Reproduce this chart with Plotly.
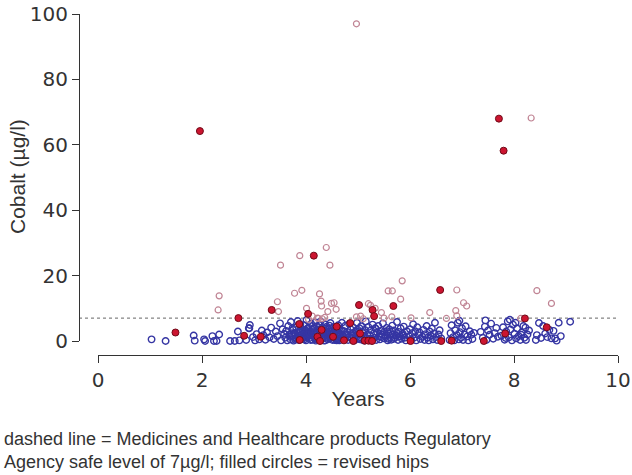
import plotly.graph_objects as go

# ---- revised hips (filled circles) ----
revised_x = [1.49, 1.96, 2.70, 2.81, 3.13, 3.34, 3.87, 3.88, 4.04, 4.15, 4.22, 4.30, 4.59, 4.52,
             4.27, 4.73, 4.85, 4.91, 5.02, 5.04, 5.13, 5.20, 5.27, 5.28, 5.31, 5.68, 6.01, 6.58,
             6.60, 6.80, 7.42, 7.71, 7.80, 7.83, 8.21, 8.63]
revised_y = [2.6, 64.2, 7.0, 1.6, 1.3, 9.5, 5.2, 0.3, 8.3, 26.1, 1.3, 3.4, 4.4, 1.3,
             0.0, 0.2, 5.5, 0.0, 11.0, 2.3, 0.1, 0.1, 0.0, 9.5, 7.6, 10.7, 0.0, 15.6,
             0.0, 0.1, 0.0, 68.0, 58.2, 2.3, 6.9, 4.2]

# ---- non-revised hips above the safe level (open, pink) ----
high_x = [2.31, 2.33, 3.45, 3.47, 3.51, 3.78, 3.88, 3.92, 4.01, 4.22, 4.24, 4.26, 4.29, 4.30,
          4.39, 4.42, 4.46, 4.49, 4.54, 4.58, 4.97, 4.97, 5.05, 5.20, 5.24, 5.33, 5.45, 5.58,
          5.66, 5.65, 5.82, 5.85, 6.38, 6.90, 6.88, 6.90, 7.03, 7.09, 8.13, 8.33, 8.44, 8.72,
          4.31, 6.02, 6.70, 4.12, 4.36, 4.05, 5.10, 5.50]
high_y = [9.5, 13.8, 12.0, 9.0, 23.2, 14.6, 26.1, 15.5, 10.0, 7.0, 6.9, 14.4, 12.2, 10.7,
          28.6, 9.0, 23.2, 11.5, 11.7, 9.7, 97.0, 7.4, 7.6, 11.4, 10.9, 10.0, 8.7, 15.3,
          15.3, 7.4, 12.8, 18.4, 8.7, 15.6, 9.3, 7.7, 11.7, 10.7, 6.9, 68.2, 15.4, 11.5,
          6.8, 7.1, 6.9, 7.6, 7.2, 6.6, 6.8, 7.0]

# ---- non-revised hips below the safe level (open, blue) ----
low_x = [
    1.03, 1.30, 1.84, 1.86, 2.04, 2.06, 2.20, 2.33, 2.23, 2.28, 2.54, 2.69, 2.63, 2.72, 2.92, 2.91,
    2.85, 2.90, 2.98, 3.02, 3.05, 3.10, 3.15, 3.18, 3.22, 3.25, 3.30, 3.33, 3.38, 3.42, 3.45, 3.50,
    3.52, 3.55, 3.58,
    3.60, 3.62, 3.64, 3.66, 3.68, 3.70, 3.71, 3.73, 3.75, 3.76,
    3.78, 3.80, 3.81, 3.83, 3.84, 3.86, 3.88, 3.89, 3.90, 3.92,
    3.93, 3.95, 3.96, 3.98, 3.99, 4.00, 4.01, 4.03, 4.04, 4.05,
    4.07, 4.08, 4.10, 4.11, 4.12, 4.14, 4.15, 4.16, 4.18, 4.19,
    4.20, 4.21, 4.23, 4.24, 4.25, 4.27, 4.28, 4.29, 4.31, 4.32,
    4.33, 4.34, 4.36, 4.37, 4.38, 4.40, 4.41, 4.42, 4.43, 4.45,
    4.46, 4.47, 4.49, 4.50, 4.51, 4.53, 4.54, 4.55, 4.57, 4.58,
    4.60, 4.61, 4.62, 4.64, 4.65, 4.66, 4.68, 4.69, 4.70, 3.72,
    3.85, 3.97, 4.06, 4.13, 4.22, 4.30, 4.39, 4.48, 4.56, 4.63,
    3.79, 3.91, 4.02, 4.09, 4.17, 4.26, 4.35, 4.44, 4.52, 4.67,
    3.74, 3.87, 3.94, 4.00, 4.12, 4.20, 4.29, 4.37, 4.45, 4.59,
    3.82, 3.95, 4.07, 4.18, 4.27, 4.33, 4.42, 4.50, 4.62, 4.69,
    3.77, 3.89, 4.03, 4.11, 4.24, 4.36, 4.47, 4.55, 4.65, 3.69,
    4.72, 4.74, 4.76, 4.78, 4.79, 4.81, 4.83, 4.84, 4.86, 4.88,
    4.90, 4.91, 4.93, 4.95, 4.96, 4.98, 5.00, 5.01, 5.03, 5.05,
    5.06, 5.08, 5.10, 5.11, 5.13, 5.15, 5.16, 5.18, 5.20, 5.22,
    5.23, 5.25, 5.27, 5.28, 5.30, 5.32, 5.34, 5.35, 5.37, 5.39,
    5.41, 5.42, 5.44, 5.46, 5.48, 5.50, 5.51, 5.53, 5.55, 5.57,
    5.58, 5.60, 5.62, 5.64, 5.66, 5.67, 5.69, 5.71, 5.73, 5.75,
    5.77, 5.78, 5.80, 5.82, 5.84, 5.86, 5.88, 5.90, 5.92, 5.94,
    4.80, 4.97, 5.12, 5.26, 5.43, 5.59, 5.74, 5.87, 4.89, 5.04,
    4.75, 4.87, 4.99, 5.09, 5.21, 5.33, 5.45, 5.56, 5.68, 5.81,
    5.98, 6.00, 6.02, 6.04, 6.06, 6.08, 6.10, 6.12, 6.14, 6.16,
    6.18, 6.20, 6.24, 6.26, 6.28, 6.30, 6.32, 6.34, 6.36, 6.38,
    6.40, 6.42, 6.44, 6.46, 6.48, 6.50, 6.52, 6.55, 6.57, 6.60,
    6.76, 6.78, 6.80, 6.83, 6.85, 6.87, 6.90, 6.92, 6.94, 6.96,
    6.98, 7.00, 7.02, 7.05, 7.07, 7.10, 7.12, 7.15, 7.18, 7.20, 7.23, 6.95,
    7.36, 7.40, 7.44, 7.47, 7.50, 7.53, 7.56, 7.60, 7.63, 7.66, 7.69, 7.45,
    7.76, 7.79, 7.82, 7.85, 7.88, 7.90, 7.93, 7.96, 7.98, 8.01,
    8.04, 8.06, 8.09, 8.12, 8.15, 8.18, 8.20, 8.23, 8.26, 8.29,
    7.92, 8.03, 8.14, 7.84, 8.22,
    8.42, 8.44, 8.48, 8.52, 8.56, 8.60, 8.64, 8.68, 8.72, 8.76,
    8.79, 8.82, 8.86, 9.08, 8.90,
]
low_y = [
    0.5, 0.0, 1.7, 0.1, 0.5, 0.0, 1.5, 2.0, 0.0, 0.0, 0.0, 2.9, 0.0, 0.2, 4.9, 3.9,
    0.3, 3.9, 1.2, 0.2, 2.1, 0.5, 3.2, 1.8, 0.4, 2.6, 1.1, 4.1, 0.6, 2.9, 1.5, 5.4,
    0.2, 3.6, 2.2,
    1.0, 3.1, 0.2, 4.6, 2.0, 0.5, 5.8, 1.6, 3.4, 0.1,
    2.5, 0.8, 4.2, 1.4, 6.1, 0.3, 2.9, 5.0, 1.9, 3.7,
    0.6, 2.2, 4.8, 1.1, 3.3, 0.2, 6.4, 2.7, 1.5, 4.1,
    0.9, 3.0, 5.3, 1.8, 0.4, 2.4, 3.9, 1.2, 5.7, 0.1,
    2.8, 4.5, 1.0, 3.5, 0.3, 2.0, 6.0, 1.6, 4.0, 0.7,
    3.2, 1.3, 5.1, 0.2, 2.6, 4.4, 1.9, 0.5, 3.6, 2.3,
    0.9, 5.5, 1.5, 3.0, 0.3, 2.1, 4.3, 1.1, 3.8, 0.6,
    2.6, 1.4, 4.8, 0.2, 3.3, 2.0, 0.8, 5.6, 1.7, 2.4,
    1.7, 0.5, 2.1, 3.4, 1.5, 0.8, 2.9, 2.0, 1.4, 3.7,
    0.4, 1.2, 1.0, 0.3, 2.2, 4.9, 0.1, 1.6, 2.5, 1.1,
    3.9, 2.5, 3.0, 2.8, 4.6, 0.6, 3.1, 3.8, 4.7, 0.2,
    0.9, 1.9, 2.4, 0.6, 3.0, 2.6, 0.9, 4.0, 0.5, 3.1,
    2.0, 4.4, 3.8, 2.6, 1.1, 3.0, 2.7, 0.3, 2.2, 1.3,
    3.1, 0.5, 4.7, 1.9, 2.8, 0.3, 5.2, 1.4, 3.6, 0.9,
    2.4, 4.1, 0.2, 3.0, 1.6, 5.6, 0.7, 2.2, 3.9, 1.1,
    4.5, 0.4, 2.7, 1.5, 3.4, 6.0, 0.9, 2.0, 4.3, 0.2,
    1.7, 3.3, 0.6, 5.0, 2.3, 1.0, 3.8, 0.3, 2.6, 4.6,
    1.3, 0.5, 3.1, 2.0, 5.4, 0.8, 2.9, 1.6, 4.0, 0.2,
    2.4, 3.6, 1.1, 0.4, 4.7, 2.0, 3.2, 0.9, 1.7, 5.8,
    0.3, 2.8, 1.4, 3.9, 0.7, 2.2, 4.4, 1.0, 0.2, 3.0,
    1.2, 2.9, 0.1, 0.2, 2.2, 0.6, 2.6, 1.7, 1.8, 0.5,
    2.0, 0.8, 3.5, 2.4, 0.7, 3.9, 1.2, 3.0, 0.6, 1.5,
    1.5, 3.6, 0.4, 2.4, 5.1, 1.0, 3.0, 0.2, 4.2, 1.8,
    2.7, 0.6, 1.3, 3.4, 0.3, 2.1, 4.6, 1.0, 0.2, 2.9,
    1.6, 3.8, 0.5, 2.3, 5.6, 1.2, 0.3, 2.0, 3.3, 0.8,
    0.3, 2.4, 4.8, 1.2, 0.2, 3.3, 1.8, 5.6, 0.5, 2.7,
    1.0, 3.9, 0.3, 2.0, 4.5, 1.4, 0.2, 3.0, 1.9, 0.6, 2.5, 6.2,
    2.8, 1.0, 4.4, 0.3, 3.2, 1.9, 5.3, 0.7, 2.4, 4.0, 1.3, 6.3,
    1.6, 4.2, 0.4, 2.9, 6.0, 1.1, 3.5, 0.2, 5.0, 2.2,
    0.8, 3.8, 1.5, 0.3, 2.6, 4.6, 1.0, 0.3, 2.0, 3.2,
    6.5, 5.6, 1.9, 0.9, 4.1,
    0.3, 1.8, 5.5, 0.9, 4.6, 2.3, 1.2, 3.4, 0.8, 3.1,
    0.8, 0.1, 5.6, 5.9, 1.5,
]

safe_level = 7
x_ticks = [0, 2, 4, 6, 8, 10]
y_ticks = [0, 20, 40, 60, 80, 100]

FONT = "Liberation Sans"
TICKFONT = "DejaVu Sans"
TXT = "#333333"

fig = go.Figure()
fig.add_trace(go.Scatter(
    x=low_x, y=low_y, mode="markers", cliponaxis=False,
    marker=dict(symbol="circle-open", size=6.5, color="#3535a3", line=dict(width=1.4)),
))
fig.add_trace(go.Scatter(
    x=high_x, y=high_y, mode="markers", cliponaxis=False,
    marker=dict(symbol="circle-open", size=6, color="#c08494", line=dict(width=1.2)),
))
fig.add_trace(go.Scatter(
    x=revised_x, y=revised_y, mode="markers", cliponaxis=False,
    marker=dict(symbol="circle", size=7, color="#cc1530", line=dict(width=1, color="#700a18")),
))

fig.add_shape(type="line", xref="paper", x0=0, x1=1, yref="y", y0=safe_level, y1=safe_level,
              line=dict(color="#666666", width=1, dash="dot"), layer="below")

# y-axis title
fig.add_annotation(
    xref="paper", yref="paper", x=(17 - 79) / 539, y=(355 - 177) / 341,
    xanchor="center", yanchor="middle", textangle=-90, showarrow=False,
    text="Cobalt (\u00b5g/l)", font=dict(family=FONT, size=21, color=TXT),
)

# caption
fig.add_annotation(
    xref="paper", yref="paper", x=-77/539, y=-0.21, xanchor="left", yanchor="top",
    align="left", showarrow=False,
    text="dashed line = Medicines and Healthcare products Regulatory<br>"
         "Agency safe level of 7\u00b5g/l; filled circles = revised hips",
    font=dict(family=FONT, size=18, color=TXT),
)

fig.update_layout(
    width=632, height=475,
    margin=dict(l=79, r=14, t=14, b=120),
    paper_bgcolor="white", plot_bgcolor="white",
    showlegend=False,
    font=dict(family=FONT, color=TXT),
    xaxis=dict(
        range=[0, 10], domain=[19/539, 1], anchor="free", position=0, automargin=False,
        tickvals=x_ticks, ticks="outside", ticklen=7, tickcolor=TXT, tickwidth=1,
        showline=True, linecolor=TXT, linewidth=1, showgrid=False, zeroline=False,
        tickfont=dict(family=TICKFONT, size=20, color=TXT),
        title=dict(text="Years", font=dict(family=FONT, size=21, color=TXT), standoff=0),
    ),
    yaxis=dict(
        range=[0, 100], domain=[14/341, 1], anchor="free", position=0, automargin=False,
        tickvals=y_ticks, ticks="outside", ticklen=7, tickcolor=TXT, tickwidth=1,
        showline=True, linecolor=TXT, linewidth=1, showgrid=False, zeroline=False,
        tickfont=dict(family=TICKFONT, size=20, color=TXT),
    ),
)

fig.write_html("out.html", config={"displayModeBar": False},
               post_script="document.body.style.margin='0';")
